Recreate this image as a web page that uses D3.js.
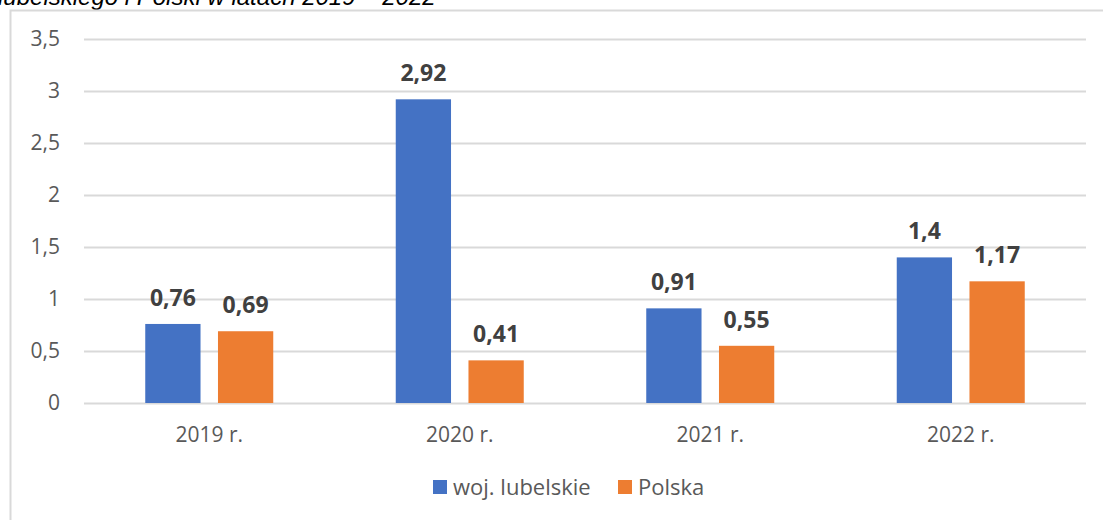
<!DOCTYPE html>
<html>
<head>
<meta charset="utf-8">
<script src="https://d3js.org/d3.v7.min.js"></script>
<style>
  * { margin: 0; padding: 0; }
  body { background: #fff; }
  svg { display: block; }
</style>
</head>
<body>
<svg id="chart"></svg>
<script>
  // data
  const years = ["2019 r.", "2020 r.", "2021 r.", "2022 r."];
  const series = ["woj. lubelskie", "Polska"];
  const lubelskie = [0.76, 2.92, 0.91, 1.4];
  const polska = [0.69, 0.41, 0.55, 1.17];
  const yTicks = [0, 0.5, 1, 1.5, 2, 2.5, 3, 3.5];
  const colors = ["#4472c4", "#ed7d31"];

  const W = 1103, H = 520;
  const svg = d3.select("#chart").attr("width", W).attr("height", H);

  const fmt = v => String(v).replace(".", ",");

  // title, cut off at the top like in the source
  svg.append("text")
    .attr("x", -2).attr("y", 5)
    .attr("font-family", "Liberation Sans, Arial, sans-serif")
    .attr("font-style", "italic")
    .attr("font-size", 24)
    .attr("fill", "#000")
    .text("lubelskiego i Polski w latach 2019 – 2022");

  // chart area frame
  svg.append("path")
    .attr("d", "M10.5," + H + "V10.5H" + W)
    .attr("fill", "none")
    .attr("stroke", "#d9d9d9")
    .attr("stroke-width", 2);

  const x = d3.scaleBand().domain(years).range([84, 1086]);
  const y = d3.scaleLinear().domain([0, 3.5]).range([403, 39]);

  // gridlines
  svg.append("g").selectAll("line")
    .data(yTicks).join("line")
    .attr("x1", 84).attr("x2", 1086)
    .attr("y1", d => Math.round(y(d)) + 0.5)
    .attr("y2", d => Math.round(y(d)) + 0.5)
    .attr("stroke", "#d9d9d9")
    .attr("stroke-width", 2);

  // y labels
  svg.append("g").selectAll("text")
    .data(yTicks).join("text")
    .attr("x", 60).attr("y", d => y(d) + 7)
    .attr("text-anchor", "end")
    .attr("font-family", "Open Sans, sans-serif")
    .attr("font-size", 21)
    .attr("fill", "#595959")
    .text(fmt);

  // x labels
  svg.append("g").selectAll("text")
    .data(years).join("text")
    .attr("x", d => x(d) + x.bandwidth() / 2)
    .attr("y", 442)
    .attr("text-anchor", "middle")
    .attr("font-family", "Open Sans, sans-serif")
    .attr("font-size", 21)
    .attr("fill", "#595959")
    .text(d => d);

  const inner = d3.scaleBand().domain([0, 1])
    .range([x.bandwidth() / 2 - 64, x.bandwidth() / 2 + 64])
    .paddingInner(0.24);

  [lubelskie, polska].forEach((vals, s) => {
    const g = svg.append("g");
    g.selectAll("rect")
      .data(vals).join("rect")
      .attr("x", (d, i) => x(years[i]) + inner(s))
      .attr("width", inner.bandwidth())
      .attr("y", d => y(d))
      .attr("height", d => y(0) - y(d))
      .attr("fill", colors[s]);
    g.selectAll("text")
      .data(vals).join("text")
      .attr("x", (d, i) => x(years[i]) + inner(s) + inner.bandwidth() / 2)
      .attr("y", d => y(d) - 18)
      .attr("text-anchor", "middle")
      .attr("font-family", "Open Sans, sans-serif")
      .attr("font-weight", "bold")
      .attr("font-size", 23)
      .attr("fill", "#404040")
      .text(fmt);
  });

  // legend
  const leg = svg.append("g").attr("transform", "translate(433,480)");
  const legX = [0, 185];
  series.forEach((name, i) => {
    leg.append("rect")
      .attr("x", legX[i]).attr("y", 0)
      .attr("width", 14).attr("height", 14)
      .attr("fill", colors[i]);
    leg.append("text")
      .attr("x", legX[i] + 20).attr("y", 15)
      .attr("font-family", "Open Sans, sans-serif")
      .attr("font-size", 22)
      .attr("fill", "#595959")
      .text(name);
  });
</script>
</body>
</html>
